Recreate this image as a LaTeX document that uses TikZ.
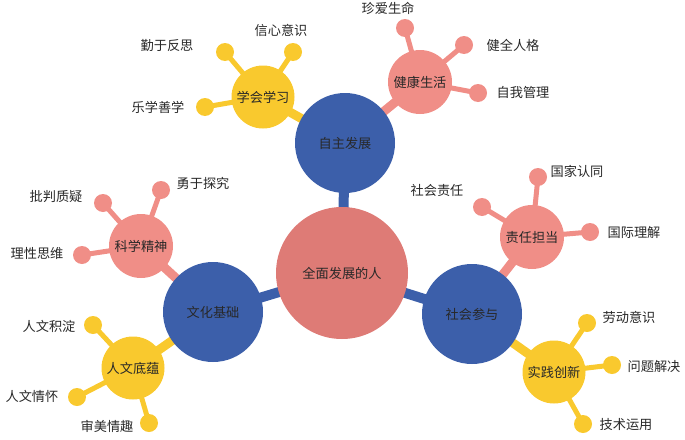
\documentclass[tikz,border=0pt]{standalone}
\usepackage{fontspec}
\setmainfont{Noto Sans CJK SC}
\usetikzlibrary{backgrounds}
\definecolor{hubred}{RGB}{222,123,118}
\definecolor{mainblue}{RGB}{60,95,170}
\definecolor{leafpink}{RGB}{240,142,135}
\definecolor{leafyellow}{RGB}{249,201,46}
\definecolor{textgrey}{RGB}{40,40,40}

\begin{document}
\begin{tikzpicture}[
  x=1pt, y=-1pt,
  every node/.style={font=\fontsize{13.2}{15}\selectfont, text=textgrey},
  hub/.style={circle, fill=hubred, minimum size=132pt, inner sep=0pt},
  main/.style={circle, fill=mainblue, minimum size=100pt, inner sep=0pt},
  subpink/.style={circle, fill=leafpink, minimum size=64pt, inner sep=0pt},
  subyellow/.style={circle, fill=leafyellow, minimum size=63pt, inner sep=0pt},
  ballpink/.style={circle, fill=leafpink, minimum size=18pt, inner sep=0pt},
  ballyellow/.style={circle, fill=leafyellow, minimum size=18pt, inner sep=0pt},
  trunk/.style={line width=10pt, mainblue},
  branch/.style={line width=9pt},
  twig/.style={line width=5pt}
]
\useasboundingbox (0,0) rectangle (685,439);

% hub and main circles
\node[hub] (hub) at (342,273) {全面发展的人};
\node[main] (zzfz) at (345,143) {自主发展};
\node[main] (whjc) at (213,312) {文化基础};
\node[main] (shcy) at (472,314) {社会参与};

% sub circles
\node[subyellow] (xhxx) at (263,97) {学会学习};
\node[subpink] (jksh) at (420,82) {健康生活};
\node[subpink] (kxjs) at (141,246) {科学精神};
\node[subyellow] (rwdy) at (133,368) {人文底蕴};
\node[subpink] (zrdd) at (532,237) {责任担当};
\node[subyellow] (sjcx) at (554,372) {实践创新};

% leaves
\node[ballyellow] (qyfs) at (225,52) {};
\node[ballyellow] (xxys) at (293,52) {};
\node[ballyellow] (lxsx) at (205,107) {};
\node[ballpink] (zasm) at (405,28) {};
\node[ballpink] (jqrg) at (464,45) {};
\node[ballpink] (zwgl) at (478,93) {};
\node[ballpink] (ppzy) at (103,203) {};
\node[ballpink] (yytj) at (161,190) {};
\node[ballpink] (lxsw) at (82,255) {};
\node[ballyellow] (rwjd) at (93,325) {};
\node[ballyellow] (rwqh) at (77,397) {};
\node[ballyellow] (smqq) at (149,423) {};
\node[ballpink] (gjrt) at (538,177) {};
\node[ballpink] (shzr) at (482,207) {};
\node[ballpink] (gjlj) at (590,232) {};
\node[ballyellow] (ldys) at (587,323) {};
\node[ballyellow] (wtjj) at (612,365) {};
\node[ballyellow] (jsyy) at (583,424) {};

% labels
\node (qyfs-t) at (167,46) {勤于反思};
\node (xxys-t) at (281,30) {信心意识};
\node (lxsx-t) at (158,107) {乐学善学};
\node (zasm-t) at (388,8) {珍爱生命};
\node (jqrg-t) at (513,45) {健全人格};
\node (zwgl-t) at (523,92) {自我管理};
\node (ppzy-t) at (56,197) {批判质疑};
\node (yytj-t) at (203,183) {勇于探究};
\node (lxsw-t) at (37,253) {理性思维};
\node (rwjd-t) at (49,326) {人文积淀};
\node (rwqh-t) at (32,396) {人文情怀};
\node (smqq-t) at (107,426) {审美情趣};
\node (gjrt-t) at (577,171) {国家认同};
\node (shzr-t) at (437,190) {社会责任};
\node (gjlj-t) at (634,232) {国际理解};
\node (ldys-t) at (629,317) {劳动意识};
\node (wtjj-t) at (654,366) {问题解决};
\node (jsyy-t) at (626,425) {技术运用};

% connectors
\begin{pgfonlayer}{background}
  \draw[trunk] (hub.center) -- (zzfz.center);
  \draw[trunk] (hub.center) -- (whjc.center);
  \draw[trunk] (hub.center) -- (shcy.center);
  \draw[branch, leafyellow] (zzfz.center) -- (xhxx.center);
  \draw[branch, leafpink] (zzfz.center) -- (jksh.center);
  \draw[branch, leafpink] (whjc.center) -- (kxjs.center);
  \draw[branch, leafyellow] (whjc.center) -- (rwdy.center);
  \draw[branch, leafpink] (shcy.center) -- (zrdd.center);
  \draw[branch, leafyellow] (shcy.center) -- (sjcx.center);
  \draw[twig, leafyellow] (xhxx.center) -- (qyfs.center);
  \draw[twig, leafyellow] (xhxx.center) -- (xxys.center);
  \draw[twig, leafyellow] (xhxx.center) -- (lxsx.center);
  \draw[twig, leafpink] (jksh.center) -- (zasm.center);
  \draw[twig, leafpink] (jksh.center) -- (jqrg.center);
  \draw[twig, leafpink] (jksh.center) -- (zwgl.center);
  \draw[twig, leafpink] (kxjs.center) -- (ppzy.center);
  \draw[twig, leafpink] (kxjs.center) -- (yytj.center);
  \draw[twig, leafpink] (kxjs.center) -- (lxsw.center);
  \draw[twig, leafyellow] (rwdy.center) -- (rwjd.center);
  \draw[twig, leafyellow] (rwdy.center) -- (rwqh.center);
  \draw[twig, leafyellow] (rwdy.center) -- (smqq.center);
  \draw[twig, leafpink] (zrdd.center) -- (gjrt.center);
  \draw[twig, leafpink] (zrdd.center) -- (shzr.center);
  \draw[twig, leafpink] (zrdd.center) -- (gjlj.center);
  \draw[twig, leafyellow] (sjcx.center) -- (ldys.center);
  \draw[twig, leafyellow] (sjcx.center) -- (wtjj.center);
  \draw[twig, leafyellow] (sjcx.center) -- (jsyy.center);
\end{pgfonlayer}
\end{tikzpicture}
\end{document}
